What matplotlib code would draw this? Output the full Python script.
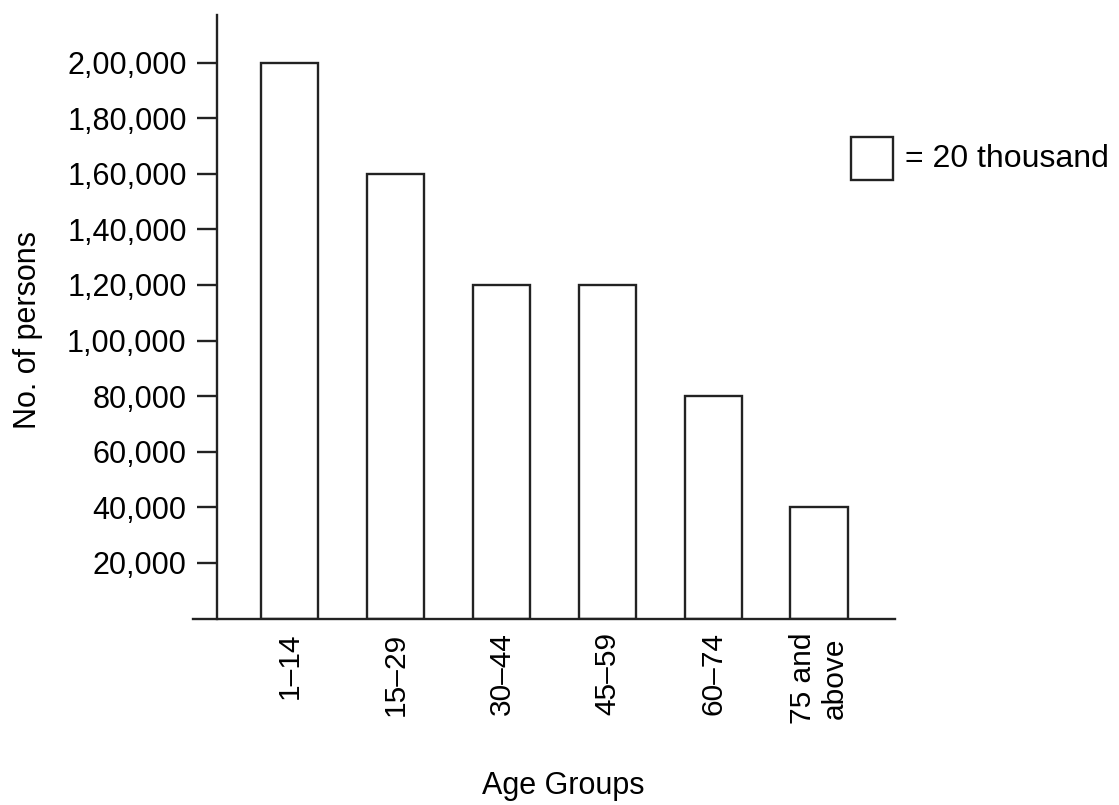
import matplotlib
matplotlib.use("Agg")
import matplotlib.pyplot as plt
from matplotlib.patches import Rectangle

# data
age_groups = ["1\u201314", "15\u201329", "30\u201344", "45\u201359", "60\u201374", "75 and\nabove"]
persons = [200000, 160000, 120000, 120000, 80000, 40000]
y_ticks = [20000, 40000, 60000, 80000, 100000, 120000, 140000, 160000, 180000, 200000]
y_tick_labels = ["20,000", "40,000", "60,000", "80,000", "1,00,000",
                 "1,20,000", "1,40,000", "1,60,000", "1,80,000", "2,00,000"]
legend_text = "= 20 thousand"

plt.rcParams["font.family"] = ["Liberation Sans", "DejaVu Sans"]
line_col = "#222222"

fig = plt.figure(figsize=(11.19, 8.05), dpi=100)
ax = fig.add_axes([0.1725, 0.2316, 0.8 - 0.1725, 0.9814 - 0.2316])

x = range(len(age_groups))
ax.bar(x, persons, width=0.54, facecolor="white", edgecolor=line_col, linewidth=1.7)

ax.set_xlim(-0.913, 5.72)
ax.set_ylim(0, 217100)

ax.spines["top"].set_visible(False)
ax.spines["right"].set_visible(False)
ax.spines["left"].set_position(("axes", 0.0335))
for s in ("left", "bottom"):
    ax.spines[s].set_color(line_col)
    ax.spines[s].set_linewidth(1.7)

ax.set_yticks(y_ticks)
ax.set_yticklabels(y_tick_labels, fontsize=22)
ax.tick_params(axis="y", direction="out", length=14.5, width=1.7, color=line_col, pad=7)

ax.set_xticks(list(x))
ax.set_xticklabels(age_groups, rotation=90, fontsize=21.5, va="top", ha="center",
                   linespacing=1.15)
ax.tick_params(axis="x", length=0, pad=10)

ax.set_ylabel("No. of persons", fontsize=22)
ax.yaxis.set_label_coords(-0.214, 0.478)
ax.set_xlabel("Age Groups", fontsize=22, va="top")
ax.xaxis.set_label_coords(0.527, -0.252)

# key box
fig.patches.append(Rectangle((851 / 1119, 1 - 180 / 805), 42 / 1119, 43 / 805,
                             transform=fig.transFigure, facecolor="white",
                             edgecolor=line_col, linewidth=1.7))
fig.text(905 / 1119, 1 - 159 / 805, legend_text, fontsize=23, va="center", ha="left")

fig.savefig("out.png", dpi=100)
